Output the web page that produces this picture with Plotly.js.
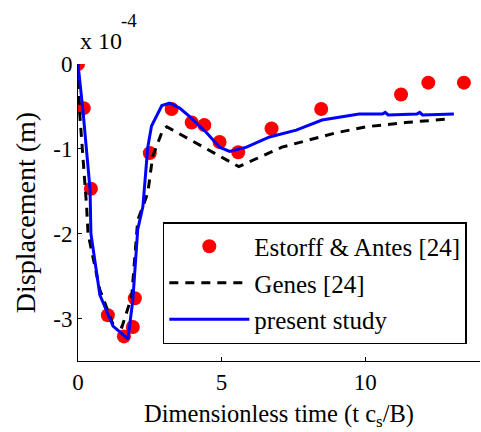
<!DOCTYPE html>
<html>
<head>
<meta charset="utf-8">
<script src="https://cdn.plot.ly/plotly-3.0.1.min.js"></script>
<style>html,body{margin:0;padding:0;background:#fff;}#chart{width:481px;height:432px;}</style>
</head>
<body>
<div id="chart"></div>
<script>
// Estorff & Antes [24] (points)
var estorffT = [0, 0.2, 0.45, 1.04, 1.6, 1.91, 1.98, 2.5, 3.26, 3.96, 4.4, 4.93, 5.58, 6.74, 8.47, 11.25, 12.2, 13.44];
var estorffU = [0, -0.52, -1.47, -2.96, -3.21, -3.1, -2.76, -1.05, -0.53, -0.69, -0.72, -0.92, -1.04, -0.76, -0.53, -0.36, -0.22, -0.22];
// Genes [24] (dashed)
var genesT = [0, 0.05, 0.3, 0.35, 0.76, 1.22, 1.53, 1.87, 2.08, 2.43, 2.6, 2.95, 3.09, 4.3, 5.6, 7.1, 9.0, 10.03, 11.4, 12.85];
var genesU = [0, -0.54, -1.68, -2.0, -2.66, -3.07, -3.1, -2.74, -1.84, -1.52, -1.09, -0.78, -0.74, -0.97, -1.21, -0.98, -0.81, -0.74, -0.69, -0.65];
// present study (solid)
var presentT = [0, 0.17, 0.42, 0.45, 0.76, 1.22, 1.74, 1.91, 2.08, 2.26, 2.43, 2.56, 2.92, 3.19, 3.54, 3.89, 4.48, 4.93, 5.28, 5.56, 5.87, 6.67, 7.6, 8.5, 9.79, 10.6, 10.7, 10.8, 11.8, 11.9, 12.0, 13.09];
var presentU = [0, -0.54, -1.48, -2.0, -2.72, -3.09, -3.24, -2.78, -1.95, -1.68, -0.98, -0.73, -0.49, -0.46, -0.52, -0.62, -0.81, -0.98, -1.03, -1.01, -0.98, -0.86, -0.78, -0.66, -0.59, -0.59, -0.57, -0.6, -0.59, -0.57, -0.6, -0.59];

var xTicks = [0, 5, 10];
var xTickText = ['0', '5', '10'];
var yTicks = [0, -1, -2, -3];
var yTickText = ['0', '-1', '-2', '-3'];

var font = 'Liberation Serif, Times New Roman, serif';

var traces = [
  {x: estorffT, y: estorffU, mode: 'markers', name: 'Estorff &amp; Antes [24]', legendgroup: 'a',
   marker: {color: '#ff0000', size: 14, symbol: 'circle'}},
  {x: genesT, y: genesU, mode: 'lines', name: 'Genes [24]', legendgroup: 'b',
   line: {color: '#000000', width: 3, dash: '9px,7px'}},
  {x: presentT, y: presentU, mode: 'lines', name: 'present study', legendgroup: 'c',
   line: {color: '#0000ff', width: 3}}
];

var layout = {
  width: 481, height: 432,
  margin: {l: 78, r: 1, t: 64, b: 71},
  paper_bgcolor: '#fff', plot_bgcolor: '#fff',
  font: {family: font, size: 23, color: '#000'},
  showlegend: true,
  legend: {x: 0.211, y: 0.468, xanchor: 'left', yanchor: 'top',
           bordercolor: '#000', borderwidth: 1.5, bgcolor: '#fff',
           font: {family: font, size: 25, color: '#000'}, itemwidth: 80,
           tracegroupgap: 1},
  xaxis: {range: [0, 14], showgrid: false, zeroline: false, showline: true,
          linecolor: '#000', linewidth: 1, ticks: 'inside', ticklen: 4, tickcolor: '#000',
          tickvals: xTicks, ticktext: xTickText, tickfont: {size: 23},
          title: {text: 'Dimensionless time (t c<sub>s</sub>/B)', font: {size: 24.5}, standoff: 11}},
  yaxis: {range: [-3.5, 0], showgrid: false, zeroline: false, showline: true,
          linecolor: '#000', linewidth: 1, ticks: 'inside', ticklen: 4, tickcolor: '#000',
          tickvals: yTicks, ticktext: yTickText, tickfont: {size: 23},
          title: {text: 'Displacement (m)', font: {size: 28}, standoff: 9}},
  annotations: [
    {xref: 'paper', yref: 'paper', x: 0, y: 1, xanchor: 'left', yanchor: 'bottom',
     yshift: 8, xshift: 0, text: 'x 10', showarrow: false, font: {size: 24}},
    {xref: 'paper', yref: 'paper', x: 0, y: 1, xanchor: 'left', yanchor: 'bottom',
     yshift: 31, xshift: 41, text: '-4', showarrow: false, font: {size: 19}}
  ]
};

Plotly.newPlot('chart', traces, layout, {displayModeBar: false, staticPlot: true});
</script>
</body>
</html>
